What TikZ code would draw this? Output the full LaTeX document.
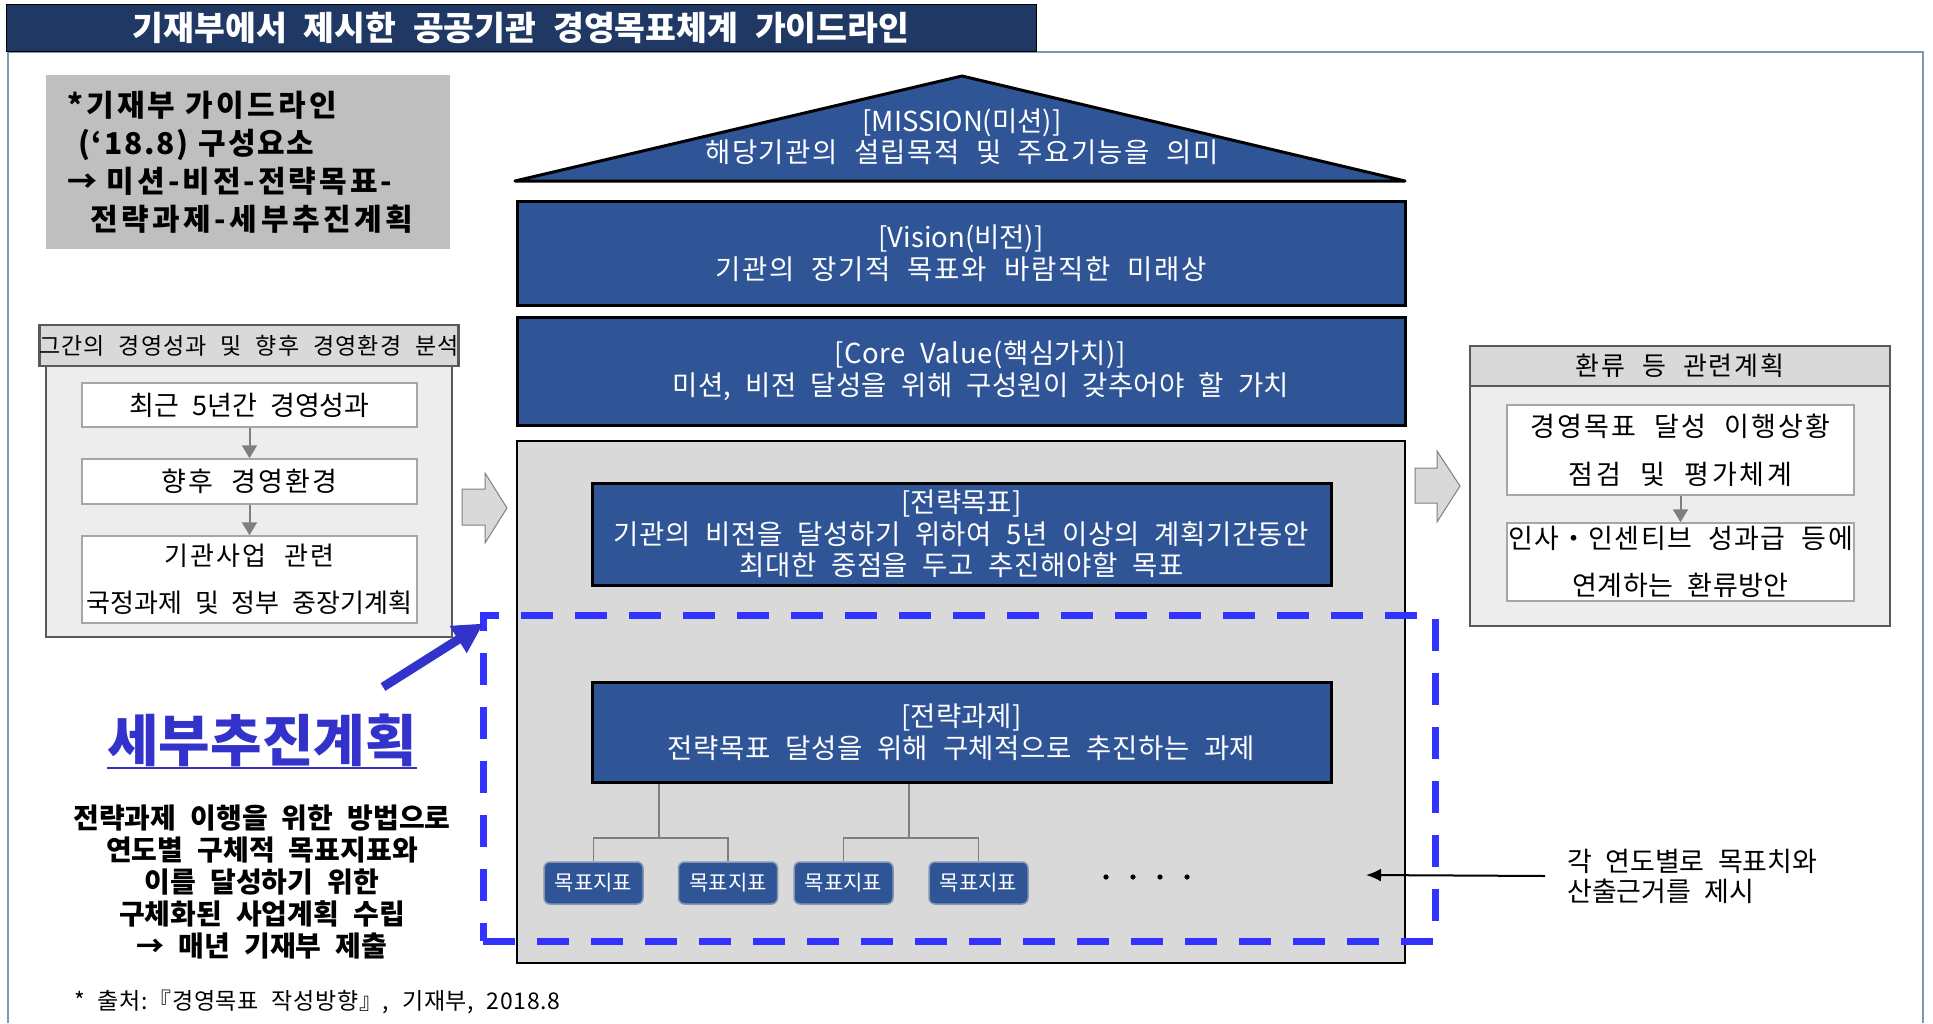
\documentclass[tikz,border=0pt]{standalone}
\usepackage{fontspec}
\setmainfont{Noto Sans CJK KR}[WordSpace=2.2]
\usetikzlibrary{arrows.meta,calc}
\definecolor{navy}{HTML}{203864}
\definecolor{boxblue}{HTML}{2F5597}
\definecolor{dashblue}{HTML}{3333FF}
\definecolor{planblue}{HTML}{3333CC}
\definecolor{bigfill}{HTML}{D9D9D9}
\definecolor{headfill}{HTML}{D9D9D9}
\definecolor{panelfill}{HTML}{EDEDED}
\definecolor{paneledge}{HTML}{595959}
\definecolor{wedge}{HTML}{A6A6A6}
\definecolor{flowgray}{HTML}{7F7F7F}
\definecolor{guidegray}{HTML}{BFBFBF}
\definecolor{framec}{HTML}{8497B0}
\definecolor{kpiedge}{HTML}{8497B0}
\newcommand\myfs[2]{\fontsize{#1}{#2}\selectfont}
\newcommand\ls[2]{{\addfontfeature{LetterSpace=#1}#2}}
\tikzset{
  bluebox/.style={draw=black, line width=3pt, fill=boxblue, text=white, align=center, inner sep=0pt, font=\myfs{27.5}{32}},
  kpi/.style={draw=kpiedge, line width=1.5pt, rounded corners=6pt, fill=boxblue, text=white, minimum width=99pt, minimum height=42pt, inner sep=0pt, font=\myfs{21}{24}},
  panel/.style={draw=paneledge, line width=2.5pt, fill=panelfill, inner sep=0pt},
  phead/.style={draw=paneledge, line width=2.5pt, fill=headfill, inner sep=0pt},
  wbox/.style={draw=wedge, line width=1.5pt, fill=white, align=center, inner sep=0pt},
  flow/.style={draw=flowgray, line width=2pt, -{Triangle[length=13pt,width=15pt]}},
  tree/.style={draw=flowgray, line width=1.5pt},
  blockarrow/.style={fill=headfill, draw=flowgray, line width=1pt},
}
\begin{document}
\begin{tikzpicture}[x=1pt, y=-1pt]
\useasboundingbox (0,0) rectangle (1933,1023);
% frame
\draw[framec, line width=1.5pt] (8,1023) -- (8,52) -- (1923,52) -- (1923,1023);
% title
\node[fill=navy, draw=black, line width=1pt, minimum width=1030pt, minimum height=47pt, inner sep=0pt, text=white, font=\myfs{33.5}{36}\bfseries] (title) at (521,27.5) {기재부에서 제시한 공공기관 경영목표체계 가이드라인};
% guide box
\node[fill=guidegray, minimum width=404pt, minimum height=174pt, text width=380pt, align=left, inner sep=0pt, font=\myfs{30}{38}\bfseries] (guide) at (248,162) {\hspace*{9pt}\ls{11}{*기재부 가이드라인}\\\hspace*{20pt}\ls{6}{(‘18.8) 구성요소}\\\hspace*{9pt}\ls{10}{→ 미션-비전-전략목표-}\\\hspace*{32pt}\ls{12}{전략과제-세부추진계획}};
% left panel
\node[panel, minimum width=406pt, minimum height=312pt] (lpanel) at (249,481) {};
\node[phead, minimum width=406pt, minimum height=41pt, font=\myfs{23}{28}] (lhead) at (249,345.5) {\ls{5}{그간의 경영성과 및 향후 경영환경 분석}};
\node[wbox, minimum width=335pt, minimum height=44pt, font=\myfs{27}{30}] (l1) at (249.5,405) {최근 5년간 경영성과};
\node[wbox, minimum width=335pt, minimum height=45pt, font=\myfs{27}{30}] (l2) at (249.5,481.5) {\ls{8}{향후 경영환경}};
\node[wbox, minimum width=335pt, minimum height=87pt, font=\myfs{26}{47}] (l3) at (249.5,579.5) {\ls{8}{기관사업 관련}\\국정과제 및 정부 중장기계획};
\draw[flow] (l1) -- (l2);
\draw[flow] (l2) -- (l3);
% block arrows
\path[blockarrow] (462,489) -- (485,489) -- (485,473) -- (507,508) -- (485,543) -- (485,525) -- (462,525) -- cycle;
\path[blockarrow] (1415,468) -- (1437,468) -- (1437,451) -- (1460,486) -- (1437,522) -- (1437,503) -- (1415,503) -- cycle;
% mission roof
\path[draw=black, line width=3pt, fill=boxblue, line join=round] (962,76) -- (1405,181) -- (515,181) -- cycle;
\node[text=white, align=center, inner sep=0pt, font=\myfs{27.5}{31}] (mission) at (962,137) {[MISSION(미션)]\\\ls{5}{해당기관의 설립목적 및 주요기능을 의미}};
\node[bluebox, minimum width=888pt, minimum height=104pt] (vision) at (961,253) {[Vision(비전)]\\\ls{6}{기관의 장기적 목표와 바람직한 미래상}};
\node[bluebox, minimum width=888pt, minimum height=108pt] (value) at (961,371) {\hspace*{38pt}\ls{2}{[Core Value(핵심가치)]}\\\hspace*{40pt}\ls{1}{미션, 비전 달성을 위해 구성원이 갖추어야 할 가치}};
% stage box
\node[draw=black, line width=2.5pt, fill=bigfill, minimum width=888pt, minimum height=522pt, inner sep=0pt] (stage) at (961,702) {};
\node[bluebox, minimum width=739pt, minimum height=102pt, font=\myfs{27.5}{31.5}] (goal) at (961.5,534) {[전략목표]\\\ls{2}{기관의 비전을 달성하기 위하여 5년 이상의 계획기간동안}\\\ls{2}{최대한 중점을 두고 추진해야할 목표}};
\node[bluebox, minimum width=739pt, minimum height=100pt] (task) at (961.5,732) {[전략과제]\\\ls{2}{전략목표 달성을 위해 구체적으로 추진하는 과제}};
\node[kpi] (k1) at (593.5,883) {목표지표};
\node[kpi] (k2) at (728,883) {목표지표};
\node[kpi] (k3) at (843.5,883) {목표지표};
\node[kpi] (k4) at (978.5,883) {목표지표};
\coordinate (j1) at (659,838);
\coordinate (j2) at (909,838);
\draw[tree] (task.south -| j1) -- (j1);
\draw[tree] (k1.north) |- (j1) -| (k2.north);
\draw[tree] (task.south -| j2) -- (j2);
\draw[tree] (k3.north) |- (j2) -| (k4.north);
\foreach \dx in {0,27,54,81} \fill (1106+\dx,877) circle (2.6pt);
% note
\node[anchor=west, align=left, inner sep=0pt, font=\myfs{27}{30}] (note) at (1567,876) {각 연도별로 목표치와\\산출근거를 제시};
\coordinate (notetip) at (1366,875);
\draw[line width=2pt, -{Latex[length=15pt,width=13pt]}] ([xshift=-22pt]note.west) -- (notetip);
% dashed plan box
\node[draw=dashblue, line width=7pt, dash pattern=on 32pt off 22pt, minimum width=952pt, minimum height=326pt, inner sep=0pt] (planbox) at (959,778) {};
% plan label
\node[text=planblue, inner sep=0pt, font=\myfs{56}{60}\bfseries] (plan) at (262,740) {세부추진계획};
\draw[planblue, line width=2.5pt] ([yshift=-7pt]plan.base west) -- ([yshift=-7pt]plan.base east);
\coordinate (ptail) at (383,687);
\draw[planblue, line width=9pt, -{Triangle[length=30pt,width=30pt]}] (ptail) -- ($(planbox.north west)+(4,12)$);
\node[align=center, inner sep=0pt, font=\myfs{28}{32}\bfseries] (desc) at (262,882) {전략과제 이행을 위한 방법으로\\연도별 구체적 목표지표와\\이를 달성하기 위한\\구체화된 사업계획 수립\\→ 매년 기재부 제출};
% right panel
\node[panel, minimum width=420pt, minimum height=280pt] (rpanel) at (1680,486) {};
\node[phead, minimum width=420pt, minimum height=40pt, font=\myfs{26}{30}] (rhead) at (1680,366) {\ls{7}{환류 등 관련계획}};
\node[wbox, minimum width=347pt, minimum height=90pt, font=\myfs{27}{48}] (r1) at (1680.5,450) {\ls{8}{경영목표 달성 이행상황}\\\ls{10}{점검 및 평가체계}};
\node[wbox, minimum width=347pt, minimum height=78pt, font=\myfs{27}{47}] (r2) at (1680.5,562) {\ls{5}{인사・인센티브 성과급 등에}\\\ls{2}{연계하는 환류방안}};
\draw[flow] (r1) -- (r2);
% source
\node[anchor=west, inner sep=0pt, font=\myfs{23}{28}] (src) at (74,1002) {\ls{3}{* 출처:『경영목표 작성방향』, 기재부, 2018.8}};
\end{tikzpicture}
\end{document}
